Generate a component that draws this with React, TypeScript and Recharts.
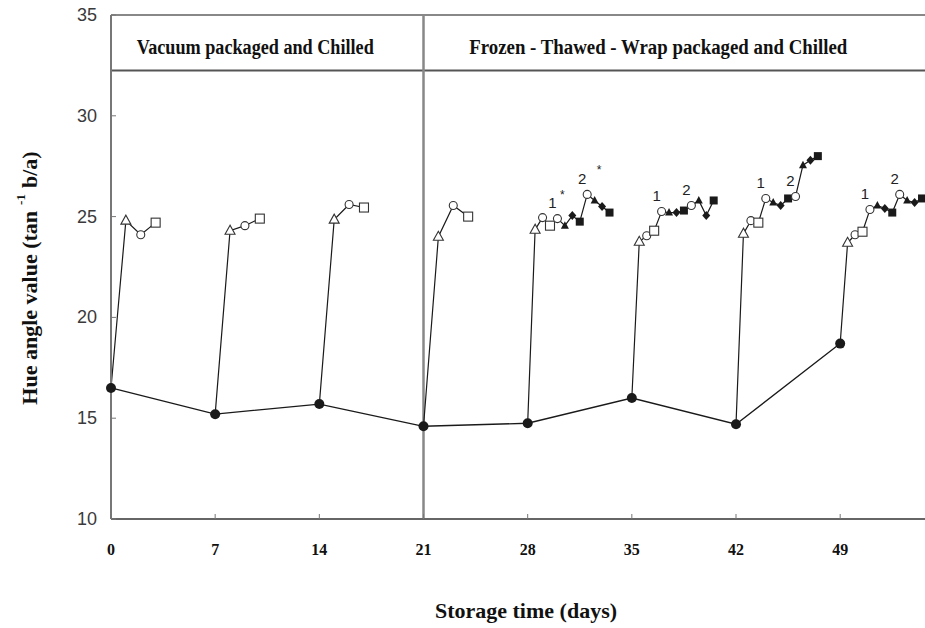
import { ComposedChart, Line, XAxis, YAxis, ReferenceLine, ReferenceArea } from "recharts";

const dayTicks = [0, 7, 14, 21, 28, 35, 42, 49];
const hueTicks = [10, 15, 20, 25, 30, 35];

// black dots: sampling days along storage
const sampleDays = [0, 7, 14, 21, 28, 35, 42, 49];
const sampleHue = [16.5, 15.2, 15.7, 14.6, 14.75, 16.0, 14.7, 18.7];

// vacuum packaged and chilled, then 1-3 days display
const chilledDays = [
  [0, 1, 2, 3],
  [7, 8, 9, 10],
  [14, 15, 16, 17],
  [21, 22, 23, 24],
];
const chilledHue = [
  [16.5, 24.8, 24.1, 24.7],
  [15.2, 24.3, 24.55, 24.9],
  [15.7, 24.85, 25.6, 25.45],
  [14.6, 24.0, 25.55, 25.0],
];

// frozen - thawed - wrap packaged and chilled, half-day readings
const frozenDays = [
  [28, 28.5, 29, 29.5, 30, 30.5, 31, 31.5, 32, 32.5, 33, 33.5],
  [35, 35.5, 36, 36.5, 37, 37.5, 38, 38.5, 39, 39.5, 40, 40.5],
  [42, 42.5, 43, 43.5, 44, 44.5, 45, 45.5, 46, 46.5, 47, 47.5],
  [49, 49.5, 50, 50.5, 51, 51.5, 52, 52.5, 53, 53.5, 54, 54.5],
];
const frozenHue = [
  [14.75, 24.35, 24.95, 24.55, 24.9, 24.55, 25.05, 24.75, 26.1, 25.8, 25.5, 25.2],
  [16.0, 23.75, 24.05, 24.3, 25.25, 25.2, 25.2, 25.3, 25.55, 25.8, 25.05, 25.8],
  [14.7, 24.15, 24.8, 24.7, 25.9, 25.7, 25.55, 25.9, 26.0, 27.55, 27.8, 28.0],
  [18.7, 23.7, 24.1, 24.25, 25.35, 25.55, 25.4, 25.2, 26.1, 25.8, 25.7, 25.9],
];
const frozenStar = [true, false, false, false];
const displayLabels: Record<number, string> = { 4: "1", 8: "2" };

const chilledMarks = ["none", "triangle", "circle", "square"];
const frozenMarks = [
  "none", "triangle", "circle", "square",
  "circle", "btriangle", "bdiamond", "bsquare",
  "circle", "btriangle", "bdiamond", "bsquare",
];

const PLOT_LEFT = 111;
const PLOT_BOTTOM = 519;
const SERIF = "'Liberation Serif', 'Times New Roman', serif";
const SANS = "'Liberation Sans', Arial, sans-serif";
const INK = "#1a1a1a";

const toPoints = (xs: number[], ys: number[]) => xs.map((x, i) => ({ x, y: ys[i] }));

function Marker({ cx, cy, kind }: { cx?: number; cy?: number; kind: string }) {
  if (cx == null || cy == null || kind === "none") return <g />;
  const open = { fill: "#fff", stroke: "#333", strokeWidth: 1.1 };
  switch (kind) {
    case "triangle":
      return <polygon points={`${cx},${cy - 5.5} ${cx - 5},${cy + 3.5} ${cx + 5},${cy + 3.5}`} {...open} />;
    case "circle":
      return <circle cx={cx} cy={cy} r={4} {...open} />;
    case "square":
      return <rect x={cx - 4.5} y={cy - 4.5} width={9} height={9} {...open} />;
    case "btriangle":
      return <polygon points={`${cx},${cy - 4.5} ${cx - 4},${cy + 3} ${cx + 4},${cy + 3}`} fill={INK} />;
    case "bdiamond":
      return <polygon points={`${cx},${cy - 4.5} ${cx - 4},${cy} ${cx},${cy + 4.5} ${cx + 4},${cy}`} fill={INK} />;
    case "bsquare":
      return <rect x={cx - 4} y={cy - 4} width={8} height={8} fill={INK} />;
    default:
      return <circle cx={cx} cy={cy} r={5} fill={INK} />;
  }
}

function YTick({ y, payload }: any) {
  return (
    <g>
      <text x={97} y={y} textAnchor="end" dominantBaseline="central" fontFamily={SANS} fontSize={18} fill="#3a3a3a">
        {payload.value}
      </text>
      <line x1={PLOT_LEFT} x2={PLOT_LEFT + 5} y1={y} y2={y} stroke="#777" />
    </g>
  );
}

function XTick({ x, payload }: any) {
  return (
    <g>
      <text x={x} y={549} textAnchor="middle" dominantBaseline="central" fontFamily={SERIF} fontWeight="bold" fontSize={16} fill="#111">
        {payload.value}
      </text>
      <line x1={x} x2={x} y1={PLOT_BOTTOM} y2={PLOT_BOTTOM - 5} stroke="#777" />
    </g>
  );
}

function HeaderLabel({ viewBox, text, shift, len }: any) {
  const { x, y, width, height } = viewBox;
  return (
    <text
      x={x + width / 2 + shift}
      y={y + height / 2 + 4}
      textAnchor="middle"
      dominantBaseline="central"
      fontFamily={SERIF}
      fontWeight="bold"
      fontSize={20}
      textLength={len}
      lengthAdjust="spacingAndGlyphs"
      fill="#111"
    >
      {text}
    </text>
  );
}

export default function App() {
  return (
    <div style={{ position: "absolute", left: 0, top: 0, background: "#fff" }}>
      <ComposedChart width={925} height={628} margin={{ top: 15, right: 0, bottom: 0, left: 0 }}>
        <XAxis
          type="number"
          dataKey="x"
          domain={[0, 54.7]}
          ticks={dayTicks}
          height={109}
          tick={<XTick />}
          tickLine={false}
          axisLine={{ stroke: "#666", strokeWidth: 2 }}
          label={{
            content: () => (
              <text x={526} y={610} textAnchor="middle" dominantBaseline="central" fontFamily={SERIF} fontWeight="bold" fontSize={22} fill="#111">
                Storage time (days)
              </text>
            ),
          }}
        />
        <YAxis
          type="number"
          domain={[10, 35]}
          ticks={hueTicks}
          width={111}
          tick={<YTick />}
          tickLine={false}
          axisLine={{ stroke: "#777", strokeWidth: 2 }}
          label={{
            content: () => (
              <text
                x={29}
                y={278}
                transform="rotate(-90, 29, 278)"
                textAnchor="middle"
                dominantBaseline="central"
                fontFamily={SERIF}
                fontWeight="bold"
                fontSize={22}
                fill="#111"
              >
                Hue angle value (tan
                <tspan dx={6} dy={-9} fontSize={13}>-1</tspan>
                <tspan dx={6} dy={9}>b/a)</tspan>
              </text>
            ),
          }}
        />

        <ReferenceLine y={35} stroke="#888" strokeWidth={2} />
        <ReferenceLine y={32.25} stroke="#555" strokeWidth={2} />
        <ReferenceLine x={21} stroke="#888" strokeWidth={2.5} />
        <ReferenceArea
          x1={0}
          x2={21}
          y1={32.25}
          y2={35}
          fill="none"
          stroke="none"
          label={<HeaderLabel text="Vacuum packaged and Chilled" shift={-12} len={237} />}
        />
        <ReferenceArea
          x1={21}
          x2={54.7}
          y1={32.25}
          y2={35}
          fill="none"
          stroke="none"
          label={<HeaderLabel text="Frozen - Thawed - Wrap packaged and Chilled" shift={-16} len={378} />}
        />

        {chilledDays.map((days, c) => (
          <Line
            key={`chilled-${c}`}
            data={toPoints(days, chilledHue[c])}
            dataKey="y"
            stroke={INK}
            strokeWidth={1.2}
            isAnimationActive={false}
            dot={(p: any) => <Marker key={`cm-${c}-${p.index}`} cx={p.cx} cy={p.cy} kind={chilledMarks[p.index]} />}
            activeDot={false}
          />
        ))}

        {frozenDays.map((days, c) => (
          <Line
            key={`frozen-${c}`}
            data={toPoints(days, frozenHue[c])}
            dataKey="y"
            stroke={INK}
            strokeWidth={1.2}
            isAnimationActive={false}
            dot={(p: any) => <Marker key={`fm-${c}-${p.index}`} cx={p.cx} cy={p.cy} kind={frozenMarks[p.index]} />}
            activeDot={false}
            label={(p: any) => {
              const text = displayLabels[p.index];
              if (!text) return <g key={`fl-${c}-${p.index}`} />;
              return (
                <g key={`fl-${c}-${p.index}`}>
                  <text x={p.x - 5} y={p.y - 16} textAnchor="middle" dominantBaseline="central" fontFamily={SANS} fontSize={15} fill="#222">
                    {text}
                  </text>
                  {frozenStar[c] && (
                    <text x={p.x + (p.index === 4 ? 5 : 12)} y={p.y - 24} textAnchor="middle" dominantBaseline="central" fontFamily={SANS} fontSize={12} fill="#222">
                      *
                    </text>
                  )}
                </g>
              );
            }}
          />
        ))}

        <Line
          data={toPoints(sampleDays, sampleHue)}
          dataKey="y"
          stroke={INK}
          strokeWidth={1.3}
          isAnimationActive={false}
          dot={(p: any) => <Marker key={`sd-${p.index}`} cx={p.cx} cy={p.cy} kind="dot" />}
          activeDot={false}
        />
      </ComposedChart>
    </div>
  );
}
